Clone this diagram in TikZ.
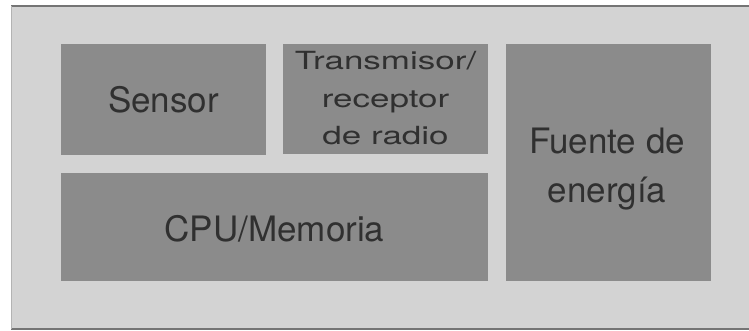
\documentclass[tikz,border=0pt]{standalone}
\usepackage{fontspec}
\setmainfont{TeX Gyre Heros}
\newfontfamily\squeezed[FakeStretch=1.4]{TeX Gyre Heros}
\definecolor{panel}{HTML}{D3D3D3}
\definecolor{block}{HTML}{8B8B8B}
\definecolor{ink}{HTML}{303030}
\definecolor{rule}{HTML}{747474}
\begin{document}
\begin{tikzpicture}[x=1pt,y=-1pt,
  block/.style={draw=none,fill=block,inner sep=0pt,text=ink,align=center,
    font=\fontsize{35}{48}\selectfont},
  label/.style={text=ink,inner sep=0pt,align=center,font=\fontsize{35}{48}\selectfont}]
  \useasboundingbox (0,0) rectangle (749,331);
  % outer panel
  \fill[panel] (11,6) rectangle (749,329);
  \draw[rule,line width=1.5pt] (11,6) -- (749,6);
  \draw[rule,line width=1.5pt] (11,329) -- (749,329);
  \draw[panel!85!black,line width=0.8pt] (11.5,6) -- (11.5,329);
  % blocks
  \node[block,minimum width=205pt,minimum height=111pt] (sensor) at (163.5,99.5) {};
  \node[block,minimum width=205pt,minimum height=110pt] (radio) at (385.5,99) {};
  \node[block,minimum width=205pt,minimum height=237pt] (power) at (608,162.5) {};
  \node[block,minimum width=427pt,minimum height=108pt] (cpu) at (274.5,227) {};
  % texts (base anchor sits on the last line)
  \node[label,anchor=base] (tsensor) at (163.5,113) {Sensor};
  \node[label,anchor=base,font=\squeezed\fontsize{25}{37.5}\selectfont]
    (tradio) at (385.5,145) {Transmisor/\\receptor\\de radio};
  \node[label,anchor=base] (tpower) at (607,202) {Fuente de\\energía};
  \node[label,anchor=base] (tcpu) at (274.5,241.5) {CPU/Memoria};
\end{tikzpicture}
\end{document}
